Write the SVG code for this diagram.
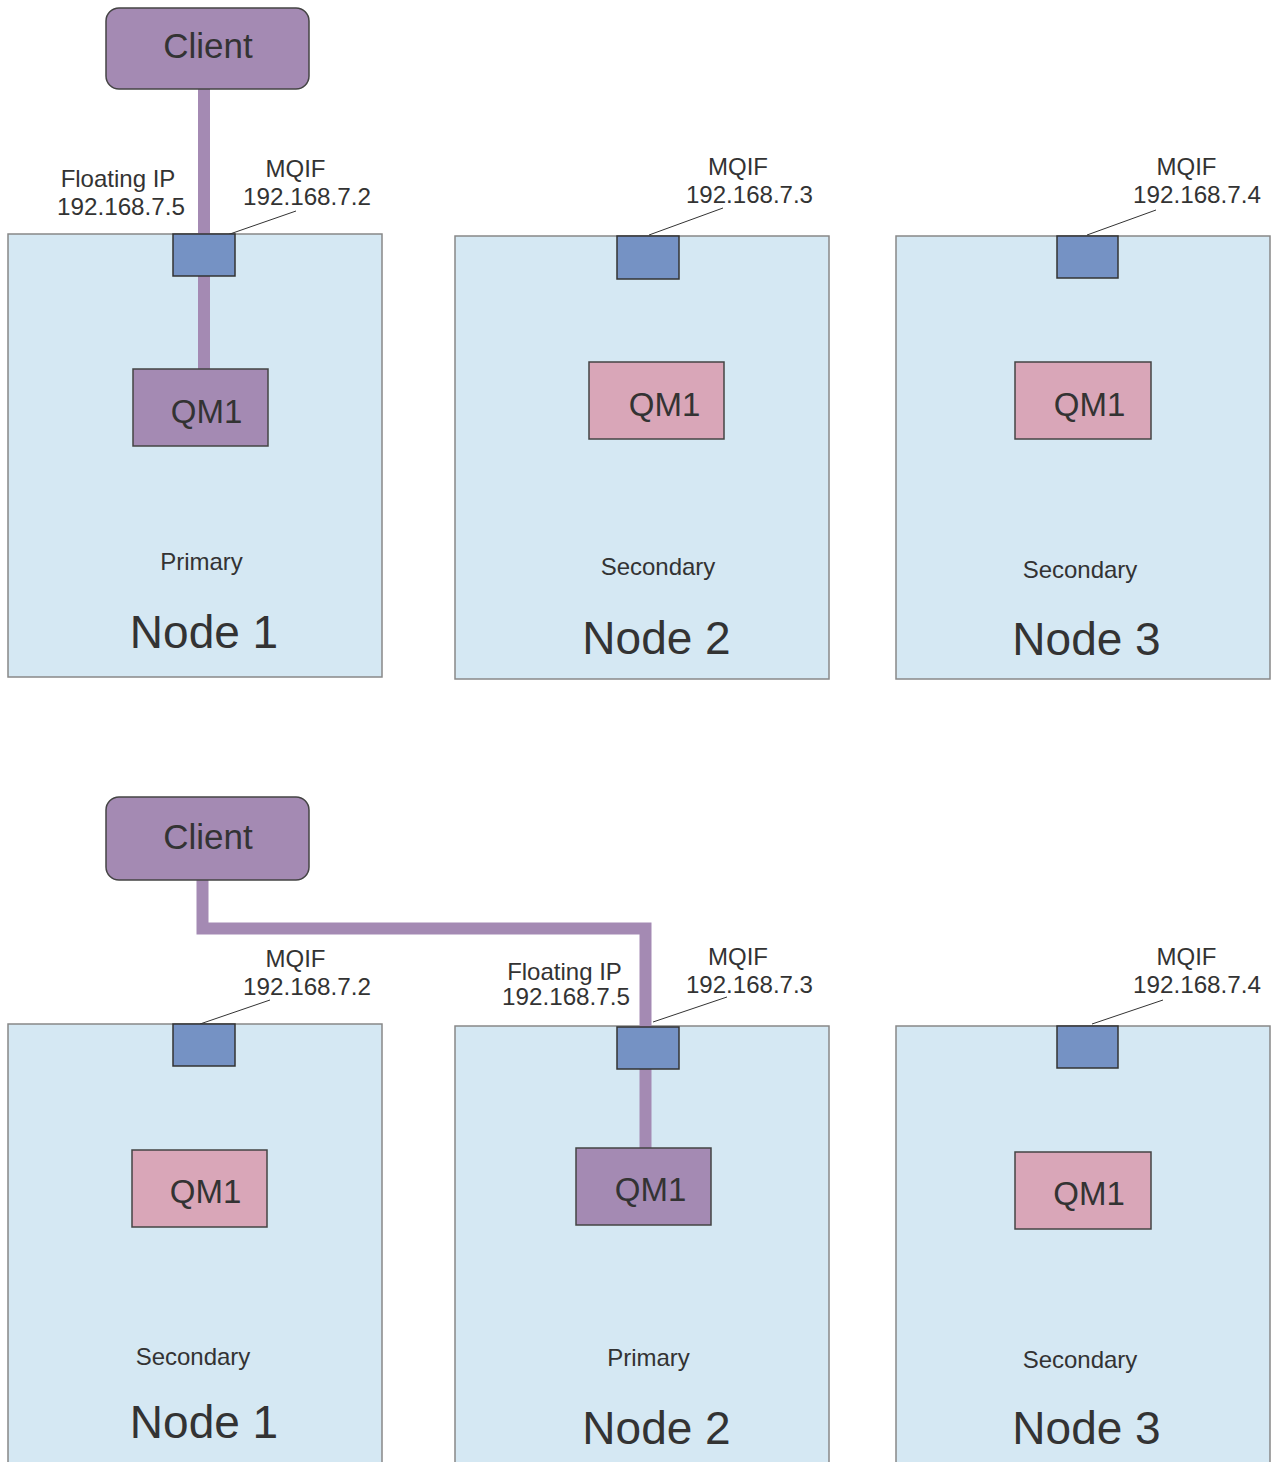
<svg xmlns="http://www.w3.org/2000/svg" width="1274" height="1462" viewBox="0 0 1274 1462">
<style>
text{font-family:"Liberation Sans",Arial,sans-serif;fill:#333}
.node{fill:#D5E8F3;stroke:#888;stroke-width:1.5}
.client{fill:#A48AB3;stroke:#444;stroke-width:1.5}
.qmp{fill:#A48AB3;stroke:#444;stroke-width:1.5}
.qms{fill:#D9A6B8;stroke:#444;stroke-width:1.5}
.mqif{fill:#7592C4;stroke:#333;stroke-width:1.5}
.conn{fill:none;stroke:#A48AB3;stroke-width:12}
.lead{stroke:#333;stroke-width:1}
.lbl{font-size:24px}
.big{font-size:46px}
.qm{font-size:33px}
.cl{font-size:35px}
</style>
<rect width="1274" height="1462" fill="#fff"/>
<g id="top-node1"><rect class="node" x="8" y="234" width="374" height="443"/><text class="lbl" x="201.5" y="570" text-anchor="middle">Primary</text><text class="big" x="204" y="648" text-anchor="middle">Node 1</text></g>
<g id="top-node2"><rect class="node" x="455" y="236" width="374" height="443"/><text class="lbl" x="658" y="575" text-anchor="middle">Secondary</text><text class="big" x="656.5" y="654" text-anchor="middle">Node 2</text></g>
<g id="top-node3"><rect class="node" x="896" y="236" width="374" height="443"/><text class="lbl" x="1080" y="578" text-anchor="middle">Secondary</text><text class="big" x="1086.5" y="655" text-anchor="middle">Node 3</text></g>
<g id="bot-node1"><rect class="node" x="8" y="1024" width="374" height="445"/><text class="lbl" x="193" y="1365" text-anchor="middle">Secondary</text><text class="big" x="204" y="1438" text-anchor="middle">Node 1</text></g>
<g id="bot-node2"><rect class="node" x="455" y="1026" width="374" height="445"/><text class="lbl" x="648.5" y="1366" text-anchor="middle">Primary</text><text class="big" x="656.5" y="1444" text-anchor="middle">Node 2</text></g>
<g id="bot-node3"><rect class="node" x="896" y="1026" width="374" height="445"/><text class="lbl" x="1080" y="1368" text-anchor="middle">Secondary</text><text class="big" x="1086.5" y="1444" text-anchor="middle">Node 3</text></g>
<g id="connectors">
<path class="conn" d="M204,89 V369"/>
<path class="conn" d="M202.5,880 V928.5 H645.5 V1148"/>
<line class="lead" x1="227" y1="235" x2="296" y2="211"/>
<line class="lead" x1="649" y1="235" x2="723" y2="208"/>
<line class="lead" x1="1087" y1="235" x2="1156" y2="210"/>
<line class="lead" x1="200" y1="1024" x2="270" y2="1000"/>
<line class="lead" x1="653" y1="1022" x2="727" y2="997"/>
<line class="lead" x1="1092" y1="1024" x2="1163" y2="1000"/>
</g>
<g id="top-client"><rect class="client" x="106" y="8" width="203" height="81" rx="13"/><text class="cl" x="208" y="58" text-anchor="middle">Client</text></g>
<g id="top-mqif1"><rect class="mqif" x="173" y="234" width="62" height="42"/></g>
<g id="top-mqif2"><rect class="mqif" x="617" y="236" width="62" height="43"/></g>
<g id="top-mqif3"><rect class="mqif" x="1057" y="236" width="61" height="42"/></g>
<g id="top-qm1-n1"><rect class="qmp" x="133" y="369" width="135" height="77"/><text class="qm" x="206.5" y="423" text-anchor="middle">QM1</text></g>
<g id="top-qm1-n2"><rect class="qms" x="589" y="362" width="135" height="77"/><text class="qm" x="664.5" y="416" text-anchor="middle">QM1</text></g>
<g id="top-qm1-n3"><rect class="qms" x="1015" y="362" width="136" height="77"/><text class="qm" x="1089.5" y="416" text-anchor="middle">QM1</text></g>
<g id="top-labels">
<text class="lbl" x="118" y="187" text-anchor="middle">Floating IP</text>
<text class="lbl" x="121" y="215" text-anchor="middle" textLength="128" lengthAdjust="spacingAndGlyphs">192.168.7.5</text>
<text class="lbl" x="295.5" y="177" text-anchor="middle">MQIF</text>
<text class="lbl" x="307" y="205" text-anchor="middle" textLength="128" lengthAdjust="spacingAndGlyphs">192.168.7.2</text>
<text class="lbl" x="738" y="175" text-anchor="middle">MQIF</text>
<text class="lbl" x="749.5" y="203" text-anchor="middle" textLength="127" lengthAdjust="spacingAndGlyphs">192.168.7.3</text>
<text class="lbl" x="1186.5" y="175" text-anchor="middle">MQIF</text>
<text class="lbl" x="1197" y="203" text-anchor="middle" textLength="128" lengthAdjust="spacingAndGlyphs">192.168.7.4</text>
</g>
<g id="bot-client"><rect class="client" x="106" y="797" width="203" height="83" rx="13"/><text class="cl" x="208" y="849" text-anchor="middle">Client</text></g>
<g id="bot-mqif1"><rect class="mqif" x="173" y="1024" width="62" height="42"/></g>
<g id="bot-mqif2"><rect class="mqif" x="617" y="1027" width="62" height="42"/></g>
<g id="bot-mqif3"><rect class="mqif" x="1057" y="1026" width="61" height="42"/></g>
<g id="bot-qm1-n1"><rect class="qms" x="132" y="1150" width="135" height="77"/><text class="qm" x="205.5" y="1203" text-anchor="middle">QM1</text></g>
<g id="bot-qm1-n2"><rect class="qmp" x="576" y="1148" width="135" height="77"/><text class="qm" x="650.5" y="1201" text-anchor="middle">QM1</text></g>
<g id="bot-qm1-n3"><rect class="qms" x="1015" y="1152" width="136" height="77"/><text class="qm" x="1089" y="1205" text-anchor="middle">QM1</text></g>
<g id="bot-labels">
<text class="lbl" x="295.5" y="967" text-anchor="middle">MQIF</text>
<text class="lbl" x="307" y="995" text-anchor="middle" textLength="128" lengthAdjust="spacingAndGlyphs">192.168.7.2</text>
<text class="lbl" x="564.5" y="980" text-anchor="middle">Floating IP</text>
<text class="lbl" x="566" y="1005" text-anchor="middle" textLength="128" lengthAdjust="spacingAndGlyphs">192.168.7.5</text>
<text class="lbl" x="738" y="965" text-anchor="middle">MQIF</text>
<text class="lbl" x="749.5" y="993" text-anchor="middle" textLength="127" lengthAdjust="spacingAndGlyphs">192.168.7.3</text>
<text class="lbl" x="1186.5" y="965" text-anchor="middle">MQIF</text>
<text class="lbl" x="1197" y="993" text-anchor="middle" textLength="128" lengthAdjust="spacingAndGlyphs">192.168.7.4</text>
</g>
</svg>
